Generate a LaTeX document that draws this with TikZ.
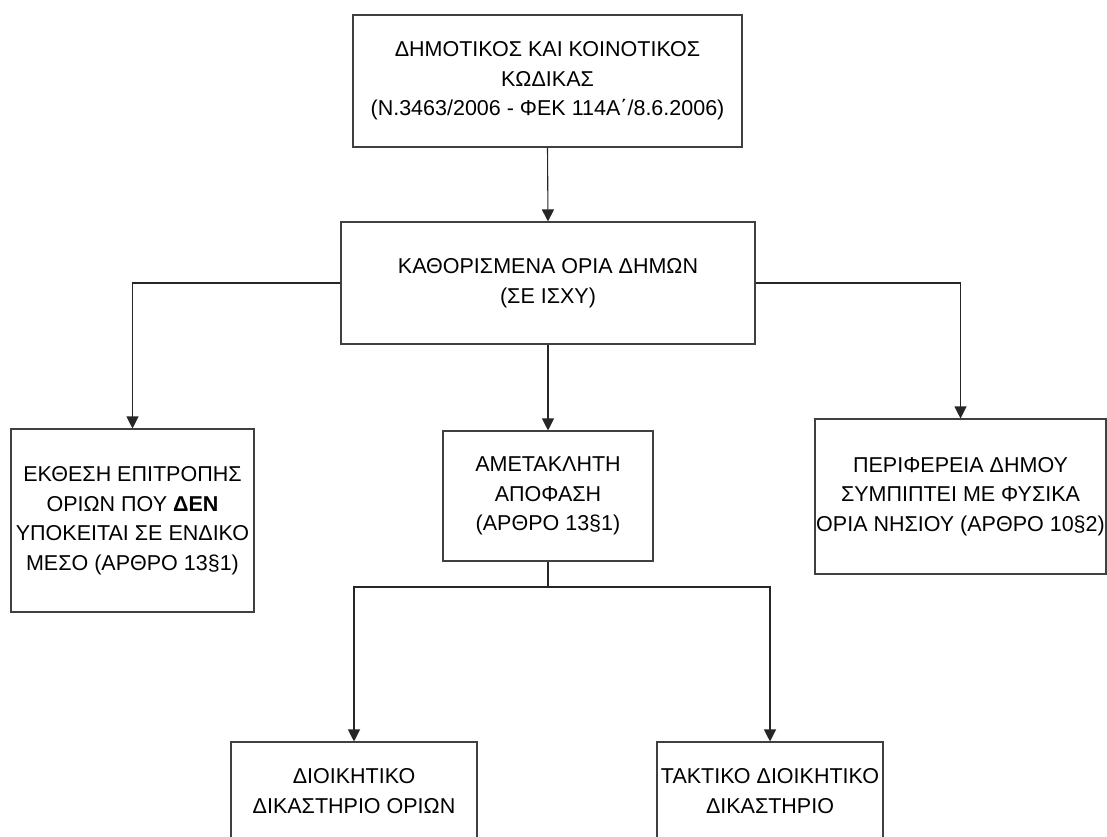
\documentclass[tikz,border=0pt]{standalone}
\usepackage{fontspec}
\setmainfont{Liberation Sans}
\usetikzlibrary{arrows.meta}
\begin{document}
\begin{tikzpicture}[x=1pt,y=-1pt,
        box/.style={draw=black!75, line width=1.1pt, align=center, inner sep=0pt,
            font=\fontsize{21.5}{29.5}\selectfont},
        link/.style={draw=black!85, line width=1.1pt, -{Triangle[length=12pt,width=12pt]}}]
        \useasboundingbox (0,0) rectangle (1107,836);
        % top levels
        \node[box, minimum width=389pt, minimum height=132pt] (kodikas) at (547.5,81)
            {ΔΗΜΟΤΙΚΟΣ ΚΑΙ ΚΟΙΝΟΤΙΚΟΣ\\ΚΩΔΙΚΑΣ\\(Ν.3463/2006 - ΦΕΚ 114Α΄/8.6.2006)};
        \node[box, minimum width=414pt, minimum height=122pt] (oria) at (548,283)
            {ΚΑΘΟΡΙΣΜΕΝΑ ΟΡΙΑ ΔΗΜΩΝ\\(ΣΕ ΙΣΧΥ)};
        % middle row
        \node[box, minimum width=243pt, minimum height=183pt] (ekthesi) at (132.5,520.5)
            {ΕΚΘΕΣΗ ΕΠΙΤΡΟΠΗΣ\\ΟΡΙΩΝ ΠΟΥ \textbf{ΔΕΝ}\\ΥΠΟΚΕΙΤΑΙ ΣΕ ΕΝΔΙΚΟ\\ΜΕΣΟ (ΑΡΘΡΟ 13§1)};
        \node[box, minimum width=210pt, minimum height=130pt] (apofasi) at (548,496)
            {ΑΜΕΤΑΚΛΗΤΗ\\ΑΠΟΦΑΣΗ\\(ΑΡΘΡΟ 13§1)};
        \node[box, minimum width=291pt, minimum height=155pt] (nisi) at (960.5,496.5)
            {ΠΕΡΙΦΕΡΕΙΑ ΔΗΜΟΥ\\ΣΥΜΠΙΠΤΕΙ ΜΕ ΦΥΣΙΚΑ\\ΟΡΙΑ ΝΗΣΙΟΥ (ΑΡΘΡΟ 10§2)};
        % courts
        \node[box, minimum width=246pt, minimum height=98pt] (dioikitiko) at (354,791)
            {ΔΙΟΙΚΗΤΙΚΟ\\ΔΙΚΑΣΤΗΡΙΟ ΟΡΙΩΝ};
        \node[box, minimum width=226pt, minimum height=98pt] (taktiko) at (770,791)
            {ΤΑΚΤΙΚΟ ΔΙΟΙΚΗΤΙΚΟ\\ΔΙΚΑΣΤΗΡΙΟ};
        \coordinate (split) at (548,587);
        % connectors
        \draw[link] (kodikas.south) -- (oria.north);
        \draw[link] (oria.west) -| (ekthesi.north);
        \draw[link] (oria.south) -- (apofasi.north);
        \draw[link] (oria.east) -| (nisi.north);
        \draw[draw=black!85, line width=1.1pt] (apofasi.south) -- (split);
        \draw[link] (split) -| (dioikitiko.north);
        \draw[link] (split) -| (taktiko.north);
    \end{tikzpicture}
\end{document}
